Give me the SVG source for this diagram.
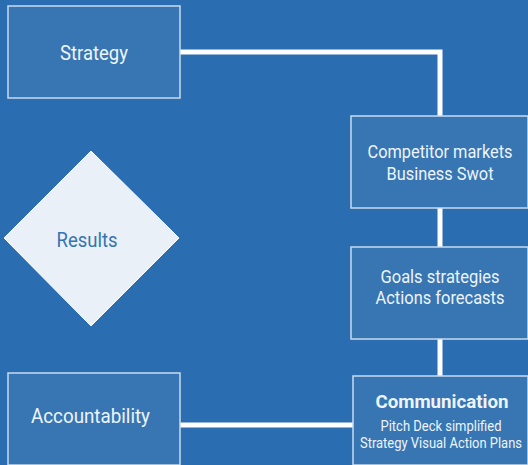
<svg xmlns="http://www.w3.org/2000/svg" width="528" height="465" viewBox="0 0 528 465">
<style>
.box{fill:#3776b3;stroke:#c9dbee;stroke-width:1.5}
.t{font-family:Roboto,"Liberation Sans",sans-serif;fill:#eef4fa;text-anchor:middle}
.c{fill:none;stroke:#ffffff;stroke-width:5}
</style>
<rect width="528" height="465" fill="#2a6db0"/>
<g id="connectors">
<polyline class="c" points="180,52 440,52 440,116"/>
<line class="c" x1="440" y1="208" x2="440" y2="247"/>
<line class="c" x1="440" y1="339" x2="440" y2="376"/>
<line class="c" x1="180" y1="425" x2="353" y2="425"/>
</g>
<g id="strategy">
<rect class="box" x="8" y="6" width="172" height="92"/>
<text class="t" x="94" y="60" font-size="21" textLength="68" lengthAdjust="spacingAndGlyphs">Strategy</text>
</g>
<g id="competitor">
<rect class="box" x="351" y="116" width="177" height="92"/>
<text class="t" x="440" y="158" font-size="18" textLength="145" lengthAdjust="spacingAndGlyphs">Competitor markets</text>
<text class="t" x="440" y="180" font-size="18" textLength="107" lengthAdjust="spacingAndGlyphs">Business Swot</text>
</g>
<g id="goals">
<rect class="box" x="351" y="247" width="177" height="92"/>
<text class="t" x="440" y="283" font-size="18" textLength="119" lengthAdjust="spacingAndGlyphs">Goals strategies</text>
<text class="t" x="440" y="304" font-size="18" textLength="129" lengthAdjust="spacingAndGlyphs">Actions forecasts</text>
</g>
<g id="communication">
<rect class="box" x="353" y="376" width="175" height="89"/>
<text class="t" x="442" y="408" font-size="19" font-weight="bold" textLength="133" lengthAdjust="spacingAndGlyphs">Communication</text>
<text class="t" x="441" y="431" font-size="15" textLength="121" lengthAdjust="spacingAndGlyphs">Pitch Deck simplified</text>
<text class="t" x="441" y="448" font-size="15" textLength="162" lengthAdjust="spacingAndGlyphs">Strategy Visual Action Plans</text>
</g>
<g id="results">
<polygon points="91,151 179,238 91,326 4,238" fill="#e9f0f7" stroke="#ffffff" stroke-width="1"/>
<text class="t" x="87" y="247" font-size="20" style="fill:#3574b2" textLength="61" lengthAdjust="spacingAndGlyphs">Results</text>
</g>
<g id="accountability">
<rect class="box" x="8" y="373" width="172" height="92"/>
<text class="t" x="90.5" y="423" font-size="20" textLength="119" lengthAdjust="spacingAndGlyphs">Accountability</text>
</g>
</svg>
